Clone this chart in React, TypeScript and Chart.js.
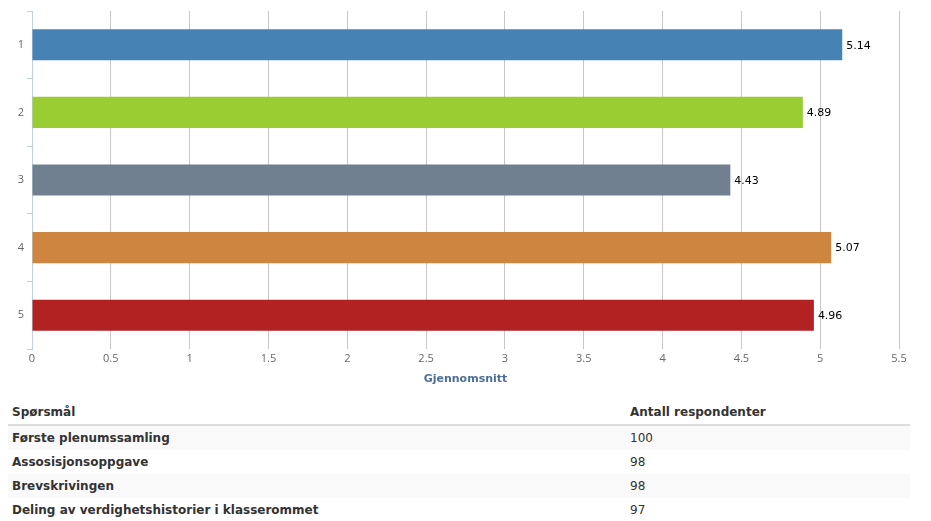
import React, { useEffect, useRef } from "react";
import { Chart, registerables } from "chart.js";

Chart.register(...registerables);

const categories = ["1", "2", "3", "4", "5"];
const values = [5.14, 4.89, 4.43, 5.07, 4.96];
const barColors = ["#4682B4", "#9ACD32", "#708090", "#CD853F", "#B22222"];
const xTicks = [0, 0.5, 1, 1.5, 2, 2.5, 3, 3.5, 4, 4.5, 5, 5.5];
const axisTitle = "Gjennomsnitt";
const tableHeaders = ["Spørsmål", "Antall respondenter"];
const questions = [
  "Første plenumssamling",
  "Assosisjonsoppgave",
  "Brevskrivingen",
  "Deling av verdighetshistorier i klasserommet",
];
const respondents = [100, 98, 98, 97];

const valueLabels = {
  id: "valueLabels",
  afterDatasetsDraw(chart: any) {
    const ctx = chart.ctx;
    const meta = chart.getDatasetMeta(0);
    ctx.save();
    ctx.font = "11px 'DejaVu Sans'";
    ctx.fillStyle = "#000";
    ctx.textAlign = "left";
    ctx.textBaseline = "middle";
    meta.data.forEach((bar: any, i: number) => {
      ctx.fillText(String(values[i]), bar.x + 4, bar.y + 1);
    });
    ctx.restore();
  },
};

export default function App() {
  const ref = useRef<HTMLCanvasElement | null>(null);
  useEffect(() => {
    if (!ref.current) return;
    const chart = new Chart(ref.current, {
      type: "bar",
      data: {
        labels: categories,
        datasets: [
          {
            data: values,
            backgroundColor: barColors,
            borderWidth: 0,
            categoryPercentage: 1,
            barPercentage: 0.46,
          },
        ],
      },
      options: {
        indexAxis: "y",
        animation: false,
        responsive: false,
        layout: { padding: { top: 11, right: 32, left: 0, bottom: 0 } },
        plugins: { legend: { display: false }, tooltip: { enabled: false } },
        scales: {
          x: {
            type: "linear",
            min: 0,
            max: 5.5,
            afterBuildTicks(scale: any) {
              scale.ticks = xTicks.map((v) => ({ value: v }));
            },
            afterFit(scale: any) {
              scale.height = 37;
            },
            border: { display: false },
            grid: { color: "#c6c6c6", tickLength: 0, lineWidth: 1 },
            ticks: {
              color: "#666",
              font: { family: "'Open Sans'", size: 11 },
              padding: 3,
              callback: (v: any) => String(v),
            },
            title: {
              display: true,
              text: axisTitle,
              color: "#4d6f96",
              font: { family: "'DejaVu Sans'", size: 11, weight: "bold" },
              padding: { top: 0, bottom: 0 },
            },
          },
          y: {
            afterFit(scale: any) {
              scale.width = 32;
            },
            border: { display: true, color: "#c0d0e0", width: 1 },
            grid: {
              drawOnChartArea: false,
              tickLength: 5,
              color: "#c0d0e0",
              offset: true,
            },
            ticks: {
              color: "#666",
              font: { family: "'Open Sans'", size: 11 },
              padding: 3,
            },
          },
        },
      },
      plugins: [valueLabels],
    });
    return () => chart.destroy();
  }, []);

  const cellBase: React.CSSProperties = {
    padding: "0 4px",
    height: 24,
    textAlign: "left",
    verticalAlign: "middle",
    color: "#333",
  };

  return (
    <div
      style={{
        position: "absolute",
        left: 0,
        top: 0,
        width: 931,
        height: 521,
        overflow: "hidden",
        background: "#fff",
        fontFamily: "'DejaVu Sans', Verdana, sans-serif",
        fontSize: 12,
      }}
    >
      <canvas ref={ref} width={931} height={386} style={{ position: "absolute", left: 0, top: 0 }} />
      <table
        style={{
          position: "absolute",
          left: 8,
          top: 400,
          width: 902,
          borderCollapse: "collapse",
          tableLayout: "fixed",
        }}
      >
        <colgroup>
          <col style={{ width: 618 }} />
          <col style={{ width: 284 }} />
        </colgroup>
        <thead>
          <tr>
            {tableHeaders.map((h) => (
              <th key={h} style={{ ...cellBase, fontWeight: "bold", borderBottom: "2px solid #ddd" }}>
                {h}
              </th>
            ))}
          </tr>
        </thead>
        <tbody>
          {questions.map((q, i) => (
            <tr key={q} style={{ background: i % 2 === 0 ? "#f9f9f9" : "#fff" }}>
              <td style={{ ...cellBase, fontWeight: "bold" }}>{q}</td>
              <td style={{ ...cellBase }}>{respondents[i]}</td>
            </tr>
          ))}
        </tbody>
      </table>
    </div>
  );
}
